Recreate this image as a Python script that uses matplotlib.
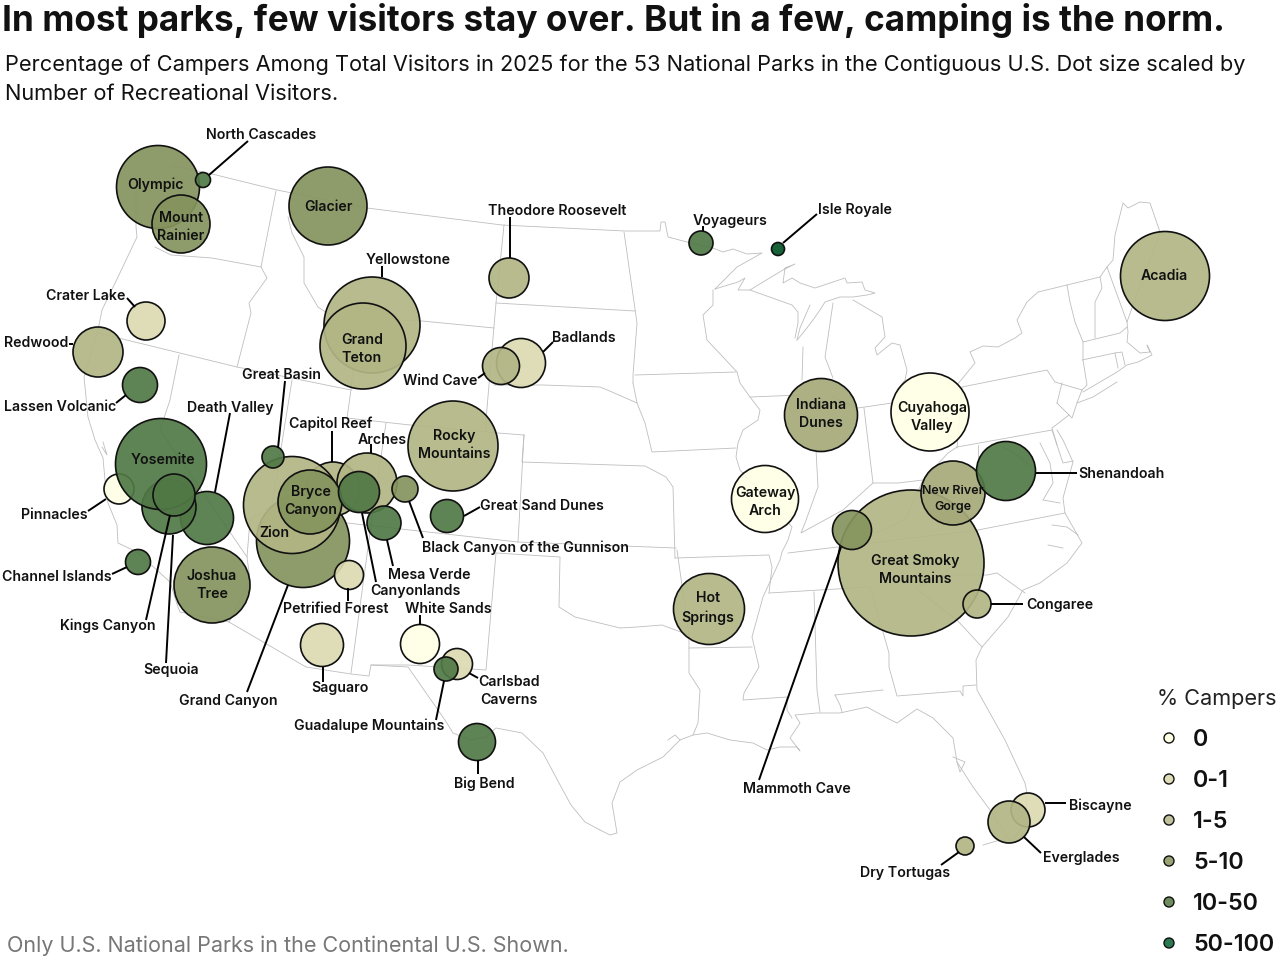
import matplotlib
matplotlib.use('Agg')
import matplotlib.pyplot as plt
from matplotlib.patches import Circle

# map is in picture coordinates (0-1280, 0-960)
plt.rcParams['font.family'] = ['Inter', 'DejaVu Sans']

TITLE = 'In most parks, few visitors stay over. But in a few, camping is the norm.'
SUBTITLE = ['Percentage of Campers Among Total Visitors in 2025 for the 53 National Parks in the Contiguous U.S. Dot size scaled by',
            'Number of Recreational Visitors.']
FOOTER = 'Only U.S. National Parks in the Continental U.S. Shown.'

classes = ['0', '0-1', '1-5', '5-10', '10-50', '50-100']
legend_colors = ['#FFFFE5', '#DFDDB8', '#C0C29B', '#98A473', '#6E8C5E', '#2C7851']
# the colours of the dots run a little finer than the legend
park_colors = ['#FFFFE5', '#DCDAB2', '#B2B685', '#A5A979', '#85945E', '#507845', '#015626']

# name, x, y, radius, colour index
parks = [
    ('Grand Canyon', 303, 541, 46.5, 4),
    ('Yellowstone', 372, 325, 48, 2),
    ('Grand Teton', 363, 346, 43, 2),
    ('Olympic', 158, 187, 41.5, 4),
    ('Mount Rainier', 181, 224, 29, 4),
    ('North Cascades', 203, 180, 7.5, 5),
    ('Glacier', 328, 206, 39, 4),
    ('Theodore Roosevelt', 509, 278, 20, 2),
    ('Crater Lake', 146, 321, 19, 1),
    ('Redwood', 98, 352, 25, 2),
    ('Lassen Volcanic', 140, 385, 17.5, 5),
    ('Badlands', 521, 363, 24.5, 1),
    ('Wind Cave', 501, 366, 18.5, 2),
    ('Rocky Mountains', 453, 446, 45, 2),
    ('Pinnacles', 119, 489, 15, 0),
    ('Death Valley', 207, 518, 26.5, 5),
    ('Kings Canyon', 169, 507, 27, 5),
    ('Yosemite', 161, 464, 45.5, 5),
    ('Sequoia', 174, 495, 21, 5),
    ('Joshua Tree', 212, 585, 38, 4),
    ('Channel Islands', 138, 562, 12.5, 5),
    ('Capitol Reef', 333, 489, 27, 2),
    ('Arches', 367, 483, 30, 2),
    ('Zion', 292, 505, 48.5, 2),
    ('Bryce Canyon', 310, 502, 32, 4),
    ('Canyonlands', 359, 492, 20.5, 5),
    ('Great Basin', 273, 457, 11, 5),
    ('Mesa Verde', 384, 523, 17, 5),
    ('Black Canyon of the Gunnison', 405, 489, 13, 4),
    ('Great Sand Dunes', 447, 516, 16.5, 5),
    ('Petrified Forest', 349, 575, 14.5, 1),
    ('Saguaro', 322, 645, 21.5, 1),
    ('White Sands', 420, 644, 19.5, 0),
    ('Carlsbad Caverns', 457, 664, 15.5, 1),
    ('Guadalupe Mountains', 446, 669, 12, 5),
    ('Big Bend', 477, 742, 18.5, 5),
    ('Voyageurs', 701, 243, 12, 5),
    ('Isle Royale', 778, 249, 6.5, 6),
    ('Acadia', 1165, 276, 44.5, 2),
    ('Indiana Dunes', 821, 415, 36.5, 3),
    ('Cuyahoga Valley', 930, 412, 39, 0),
    ('Gateway Arch', 765, 499, 33.5, 0),
    ('Great Smoky Mountains', 911, 563, 73, 2),
    ('Congaree', 977, 604, 14, 2),
    ('New River Gorge', 953, 493, 32, 3),
    ('Shenandoah', 1006, 471, 29.5, 5),
    ('Mammoth Cave', 852, 530, 19.5, 4),
    ('Hot Springs', 709, 609, 35.5, 2),
    ('Biscayne', 1028, 810, 17, 1),
    ('Everglades', 1009, 822, 21, 2),
    ('Dry Tortugas', 965, 846, 9, 2),
]

# text, x, y
labels = [
    ('North Cascades', 261, 134), ('Olympic', 156, 184), ('Mount\nRainier', 181, 226),
    ('Glacier', 328, 206), ('Theodore Roosevelt', 557, 210), ('Yellowstone', 408, 259),
    ('Grand\nTeton', 362, 348), ('Crater Lake', 86, 295), ('Redwood', 36, 342),
    ('Lassen Volcanic', 60, 406), ('Wind Cave', 440, 380), ('Badlands', 584, 337),
    ('Great Basin', 281, 374), ('Death Valley', 230, 407), ('Capitol Reef', 331, 423),
    ('Arches', 382, 439), ('Rocky\nMountains', 454, 444), ('Yosemite', 163, 459),
    ('Pinnacles', 54, 514), ('Bryce\nCanyon', 311, 500), ('Zion', 274, 532),
    ('Great Sand Dunes', 542, 505), ('Black Canyon of the Gunnison', 525, 547),
    ('Mesa Verde', 429, 574), ('Canyonlands', 415, 590), ('Channel Islands', 57, 576),
    ('Joshua\nTree', 212, 584), ('Kings Canyon', 108, 625), ('Sequoia', 171, 669),
    ('Petrified Forest', 336, 608), ('White Sands', 448, 608), ('Saguaro', 340, 687),
    ('Grand Canyon', 228, 700), ('Carlsbad\nCaverns', 509, 690),
    ('Guadalupe Mountains', 369, 725), ('Big Bend', 484, 783), ('Voyageurs', 730, 220),
    ('Isle Royale', 855, 209), ('Acadia', 1164, 275), ('Indiana\nDunes', 821, 413),
    ('Cuyahoga\nValley', 932, 416), ('Gateway\nArch', 765, 501),
    ('Shenandoah', 1121, 473), ('Great Smoky\nMountains', 915, 569),
    ('Hot\nSprings', 708, 607), ('Congaree', 1060, 604), ('Mammoth Cave', 797, 788),
    ('Biscayne', 1100, 805), ('Everglades', 1081, 857), ('Dry Tortugas', 905, 872),
]

leaders = [
    [(209, 175), (248, 141)], [(510, 258), (510, 217)], [(382, 277), (382, 266)],
    [(127, 298), (135, 307)], [(69, 344), (73, 344)], [(116, 403), (126, 395)],
    [(478, 378), (485, 373)], [(543, 352), (553, 342)], [(285, 381), (278, 448)],
    [(230, 413), (215, 492)], [(332, 431), (332, 462)], [(371, 444), (371, 453)],
    [(106, 499), (88, 511)], [(170, 515), (146, 620)], [(173, 535), (166, 663)],
    [(127, 567), (112, 574)], [(288, 585), (247, 692)], [(348, 588), (348, 601)],
    [(362, 513), (376, 582)], [(387, 540), (393, 566)], [(409, 501), (423, 538)],
    [(464, 516), (480, 507)], [(420, 615), (420, 625)], [(323, 667), (323, 682)],
    [(469, 673), (478, 678)], [(444, 681), (436, 720)], [(478, 760), (478, 774)],
    [(703, 226), (703, 231)], [(783, 243), (817, 214)], [(1036, 473), (1077, 473)],
    [(841, 547), (759, 780)], [(991, 604), (1023, 604)], [(1045, 803), (1066, 803)],
    [(1024, 837), (1041, 853)], [(959, 852), (941, 865)],
]

# outline and state lines of the map, traced
borders = [
    # north border to lake superior
    [(172, 166), (208, 173), (277, 190), (367, 208), (502, 225), (625, 231), (660, 231), (661, 222), (665, 222),
     (668, 237), (687, 242), (713, 248), (723, 252), (733, 249), (747, 254), (762, 253), (737, 267), (715, 289)],
    # puget sound and pacific coast
    [(136, 185), (136, 227), (137, 237), (118, 277), (102, 310), (98, 330), (84, 377), (88, 417), (95, 440),
     (103, 458), (105, 480), (108, 503), (117, 525), (118, 543), (137, 552), (170, 582), (178, 607), (180, 612),
     (229, 622)],
    [(103, 442), (107, 455), (102, 447)],
    # mexican border and rio grande
    [(229, 622), (306, 667), (351, 674), (369, 676), (371, 665), (408, 667), (424, 690), (445, 720), (453, 733),
     (470, 740), (486, 737), (496, 728), (522, 733), (543, 753), (559, 783), (571, 805), (585, 822), (600, 830)],
    # gulf
    [(600, 830), (610, 835), (617, 833), (612, 803), (620, 782), (637, 770), (663, 757), (680, 740), (693, 735),
     (707, 733), (730, 740), (753, 743), (767, 750), (780, 747), (797, 747), (800, 751), (790, 738), (800, 723),
     (795, 715), (817, 713), (840, 713), (867, 707), (887, 718), (897, 723), (917, 709), (933, 718), (953, 738),
     (957, 762), (973, 787), (990, 810), (1011, 842)],
    [(668, 740), (675, 735), (680, 740)],
    [(953, 757), (965, 762), (960, 772), (957, 762)],
    [(983, 845), (1000, 840)],
    # atlantic
    [(1011, 842), (1026, 823), (1027, 793), (1025, 783), (1005, 740), (977, 690), (976, 660), (982, 647), (1008, 617),
     (1023, 590), (1040, 583), (1067, 563), (1082, 543), (1065, 513), (1063, 498), (1073, 462), (1063, 440),
     (1057, 430)],
    [(1052, 430), (1063, 463), (1073, 461)],
    [(1040, 443), (1050, 463), (1053, 483), (1043, 500), (1060, 503)],
    [(1052, 525), (1067, 527), (1078, 535)],
    [(1048, 545), (1063, 548)],
    [(1057, 403), (1069, 415), (1052, 428), (1057, 445)],
    [(1062, 383), (1057, 403)],
    [(1082, 390), (1077, 403), (1072, 418), (1069, 415)],
    [(1077, 403), (1093, 397), (1117, 382)],
    [(1083, 392), (1117, 372), (1127, 365), (1138, 362), (1152, 355), (1147, 345), (1150, 352), (1140, 353),
     (1127, 342), (1128, 332), (1127, 322), (1132, 308), (1160, 232), (1150, 203), (1140, 202), (1128, 208),
     (1123, 203), (1115, 235), (1113, 260), (1107, 267), (1100, 277), (1067, 285), (1038, 292), (1027, 302),
     (1017, 320), (1022, 333), (1015, 338), (998, 347), (983, 346), (970, 352), (975, 363), (957, 385)],
    # great lakes
    [(715, 289), (738, 282), (745, 278), (742, 283), (738, 290), (750, 290), (763, 282), (783, 270), (795, 264),
     (785, 268), (783, 283), (792, 278), (800, 283), (815, 288), (833, 282), (845, 278), (847, 283), (862, 282),
     (865, 290), (875, 293), (867, 295), (853, 297), (840, 297), (825, 302), (820, 310), (813, 320), (803, 333),
     (797, 340)],
    [(750, 290), (792, 305), (798, 312), (798, 323), (795, 338)],
    [(810, 305), (800, 328), (797, 340)],
    [(803, 347), (802, 380)],
    [(833, 303), (828, 337), (825, 357), (833, 378)],
    [(853, 300), (882, 317), (885, 337), (875, 348), (877, 355), (892, 343), (900, 345), (907, 370), (905, 380),
     (897, 390)],
    # upper mississippi
    [(713, 290), (713, 305), (703, 315), (707, 340), (737, 372), (740, 383), (750, 397), (760, 410), (758, 420),
     (743, 430), (738, 443), (736, 457), (740, 470), (792, 527), (788, 540), (782, 552), (780, 560), (763, 597),
     (752, 637), (759, 667), (744, 693), (743, 700), (787, 697), (787, 710), (792, 718)],
    # west
    [(155, 247), (171, 255), (212, 258), (261, 267)],
    [(276, 191), (261, 267), (267, 278), (249, 303), (251, 313), (237, 367)],
    [(98, 333), (237, 367), (351, 390)],
    [(179, 355), (170, 400), (160, 430), (247, 557), (250, 580), (229, 622)],
    [(292, 380), (272, 505), (250, 520), (247, 557)],
    [(288, 217), (292, 233), (304, 257), (304, 283), (318, 307), (327, 313), (358, 318), (422, 321), (494, 328)],
    [(358, 318), (351, 390), (347, 418), (410, 425), (498, 433), (524, 435)],
    [(504, 225), (496, 303), (486, 420), (486, 433)],
    [(496, 303), (635, 311)],
    [(494, 385), (543, 385), (600, 387), (612, 392), (637, 403)],
    [(524, 435), (522, 462), (645, 466), (666, 477), (673, 487), (675, 558)],
    [(524, 435), (518, 542), (676, 548)],
    [(272, 505), (347, 523), (518, 542)],
    [(386, 423), (371, 525), (351, 673)],
    [(371, 665), (408, 665), (486, 670), (496, 553), (560, 557), (559, 607), (575, 617), (620, 628), (637, 627),
     (662, 625), (689, 635), (677, 550)],
    [(689, 635), (689, 673), (700, 690), (698, 723), (693, 735)],
    [(689, 648), (752, 647)],
    [(675, 558), (769, 555), (772, 567), (769, 593)],
    [(769, 593), (870, 587), (889, 653), (889, 667), (897, 696), (960, 691), (963, 696), (963, 686), (976, 685)],
    [(814, 592), (817, 690), (820, 712)],
    [(835, 695), (883, 690)],
    [(835, 695), (840, 705), (842, 712)],
    [(982, 647), (957, 620), (915, 588), (945, 575), (987, 575), (997, 573), (1025, 593)],
    [(788, 553), (978, 530), (1065, 513)],
    [(633, 383), (637, 403), (645, 423), (652, 452), (736, 448)],
    [(624, 232), (637, 323), (633, 375), (633, 383)],
    [(635, 375), (736, 372)],
    [(750, 397), (801, 395)],
    [(816, 450), (818, 487), (805, 523), (801, 533), (843, 510), (873, 483), (898, 483), (923, 480), (948, 453),
     (957, 447)],
    [(832, 397), (858, 408), (892, 403)],
    [(864, 408), (873, 483)],
    [(957, 448), (962, 387), (1047, 370), (1055, 382), (1082, 390)],
    [(957, 447), (1052, 430)],
    [(978, 445), (978, 470)],
    [(1003, 447), (1012, 452), (1030, 465)],
    [(923, 480), (905, 520), (870, 535)],
    [(1067, 285), (1070, 302), (1075, 322), (1083, 342), (1083, 360), (1087, 385), (1082, 390)],
    [(1100, 277), (1102, 288), (1095, 302), (1095, 338)],
    [(1107, 267), (1127, 322)],
    [(1083, 342), (1120, 333), (1127, 327)],
    [(1082, 360), (1115, 353), (1122, 352), (1125, 365)],
    [(1115, 353), (1118, 368)],
]

fig = plt.figure(figsize=(12.8, 9.6), dpi=100)
ax = fig.add_axes([0, 0, 1, 1])
ax.set_xlim(0, 1280)
ax.set_ylim(960, 0)
ax.axis('off')

for b in borders:
    ax.plot([p[0] for p in b], [p[1] for p in b], color='#BEBEBE', lw=0.6, zorder=1)

for i, (name, x, y, r, c) in enumerate(parks):
    ax.add_patch(Circle((x, y), r, facecolor=park_colors[c], edgecolor='none', alpha=0.92, zorder=2 + i * 0.01))
    ax.add_patch(Circle((x, y), r, facecolor='none', edgecolor='#111111', lw=1.2, zorder=2 + i * 0.01 + 0.001))

for l in leaders:
    ax.plot([l[0][0], l[1][0]], [l[0][1], l[1][1]], color='black', lw=1.4, zorder=3, solid_capstyle='butt')

for text, x, y in labels:
    ax.text(x, y + 1, text, ha='center', va='center', fontsize=10.2, fontweight='semibold', color='#111111',
            linespacing=1.42, zorder=4)
ax.text(953, 499, 'New River\nGorge', ha='center', va='center', fontsize=9, fontweight='semibold', color='#111111',
        linespacing=1.42, zorder=4)

ax.text(2, 21, TITLE, fontsize=25.3, fontweight='bold', va='center', color='#111111')
ax.text(5, 65, SUBTITLE[0], fontsize=15.7, va='center', color='#111111')
ax.text(5, 94, SUBTITLE[1], fontsize=15.7, va='center', color='#111111')
ax.text(7, 946, FOOTER, fontsize=15.5, va='center', color='#777777')

# legend
ax.text(1157, 699, '% Campers', fontsize=15.6, va='center', color='#222222')
legend_y = [738, 779, 820, 861, 902, 943]
for name, col, ly in zip(classes, legend_colors, legend_y):
    ax.add_patch(Circle((1169, ly), 5, facecolor=col, edgecolor='#111111', lw=1, zorder=3))
    ax.text(1193, ly + 2, name, fontsize=16.8, fontweight='semibold', va='center', color='#111111')

fig.savefig('out.png', dpi=100)
